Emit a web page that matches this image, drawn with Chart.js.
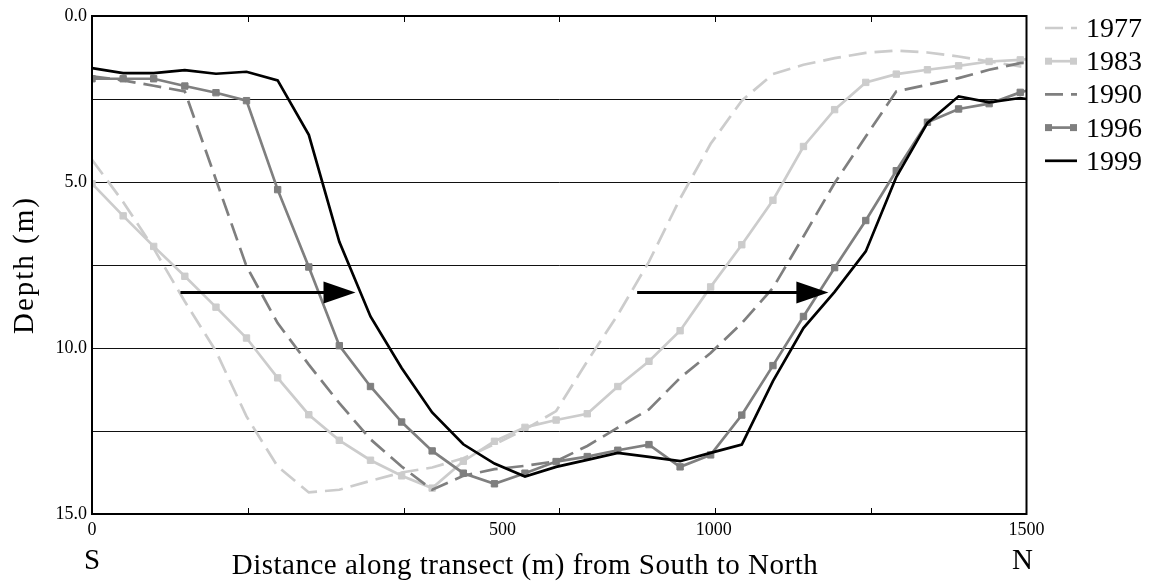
<!DOCTYPE html>
<html>
<head>
<title>Channel depth along transect</title>
<script src="https://cdn.jsdelivr.net/npm/chart.js@4.4.0/dist/chart.umd.min.js"></script>
<style>
    body { margin: 0; background: #fff; }
</style>
</head>
<body>
<canvas id="transect" width="1151" height="588"></canvas>
<script>
// distance along transect (m), one sounding every ~50 m, last value is the plot edge
var distance = [0, 50, 99, 149, 199, 248, 298, 348, 397, 447, 497, 546, 596, 646, 695, 745,
    795, 844, 894, 944, 993, 1043, 1093, 1142, 1192, 1242, 1291, 1341, 1391, 1440, 1490, 1500];

// depth (m) for each survey year
var depth1977 = [4.33, 5.6, 7.0, 8.6, 10.1, 12.06, 13.57, 14.35, 14.27, 14.0, 13.75, 13.6, 13.32, 12.9, 12.45, 11.9,
    10.4, 9.0, 7.4, 5.5, 3.85, 2.55, 1.75, 1.47, 1.27, 1.11, 1.04, 1.1, 1.22, 1.37, 1.52, 1.54];
var depth1983 = [5.05, 6.02, 6.94, 7.84, 8.77, 9.7, 10.9, 12.01, 12.78, 13.38, 13.85, 14.22, 13.41, 12.81, 12.39, 12.17,
    11.98, 11.16, 10.4, 9.48, 8.16, 6.89, 5.55, 3.93, 2.82, 2.0, 1.75, 1.62, 1.5, 1.37, 1.32, 1.3];
var depth1990 = [1.82, 1.94, 2.1, 2.27, 4.93, 7.54, 9.25, 10.5, 11.66, 12.75, 13.57, 14.27, 13.85, 13.65, 13.55, 13.41,
    12.95, 12.4, 11.85, 10.9, 10.15, 9.25, 8.19, 6.64, 5.03, 3.63, 2.27, 2.07, 1.87, 1.62, 1.42, 1.4];
var depth1996 = [1.89, 1.89, 1.89, 2.11, 2.31, 2.55, 5.23, 7.56, 9.93, 11.16, 12.23, 13.1, 13.77, 14.09, 13.77, 13.42,
    13.27, 13.08, 12.91, 13.58, 13.22, 12.02, 10.53, 9.05, 7.58, 6.16, 4.66, 3.2, 2.8, 2.64, 2.3, 2.25];
var depth1999 = [1.57, 1.72, 1.72, 1.63, 1.74, 1.68, 1.94, 3.58, 6.8, 9.05, 10.6, 11.94, 12.9, 13.48, 13.87, 13.58,
    13.37, 13.16, 13.28, 13.41, 13.16, 12.91, 11.0, 9.4, 8.31, 7.09, 4.85, 3.22, 2.42, 2.6, 2.47, 2.5];

var years = ['1977', '1983', '1990', '1996', '1999'];
// x labels as printed in the figure and where they sit along the axis (m)
var xLabelText = ['0', '500', '1000', '1500'];
var xLabelAt = [0, 659, 998, 1500];
var yLabelled = [0, 5, 10, 15];

// migration arrows (m along transect, depth m)
var arrowFrom = [142, 875];
var arrowTo = [423, 1182];
var arrowDepth = 8.33;

var LIGHT = '#cccccc';
var MID = '#7f7f7f';
var SERIF = '"Liberation Serif", "DejaVu Serif", serif';

function pts(values) {
    return values.map(function (v, i) { return { x: distance[i], y: v }; });
}

// marker on every sounding but not on the edge value
function markerRadius(ctx) {
    return ctx.dataIndex === distance.length - 1 ? 0 : 4.5;
}

var datasets = [
    { label: years[0], data: pts(depth1977), borderColor: LIGHT, borderDash: [18, 8], pointRadius: 0, order: 5 },
    { label: years[1], data: pts(depth1983), borderColor: LIGHT, pointRadius: markerRadius, pointStyle: 'rect',
      pointBackgroundColor: LIGHT, pointBorderColor: LIGHT, order: 4 },
    { label: years[2], data: pts(depth1990), borderColor: MID, borderDash: [18, 8], pointRadius: 0, order: 3 },
    { label: years[3], data: pts(depth1996), borderColor: MID, pointRadius: markerRadius, pointStyle: 'rect',
      pointBackgroundColor: MID, pointBorderColor: MID, order: 2 },
    { label: years[4], data: pts(depth1999), borderColor: '#000000', pointRadius: 0, order: 1 }
];
datasets.forEach(function (d) {
    d.borderWidth = 2.7;
    d.tension = 0;
    d.fill = false;
    d.pointBorderWidth = 1;
});

var decor = {
    id: 'decor',
    afterDatasetsDraw: function (chart) {
        var c = chart.ctx, a = chart.chartArea;
        var xs = chart.scales.x, ys = chart.scales.y;
        c.save();

        // arrows
        c.fillStyle = '#000';
        c.strokeStyle = '#000';
        c.lineWidth = 3;
        for (var i = 0; i < arrowFrom.length; i++) {
            var x0 = xs.getPixelForValue(arrowFrom[i]);
            var x1 = xs.getPixelForValue(arrowTo[i]);
            var y = ys.getPixelForValue(arrowDepth);
            c.beginPath();
            c.moveTo(x0, y);
            c.lineTo(x1 - 20, y);
            c.stroke();
            c.beginPath();
            c.moveTo(x1, y);
            c.lineTo(x1 - 32, y - 11);
            c.lineTo(x1 - 32, y + 11);
            c.closePath();
            c.fill();
        }

        // inward ticks top and bottom
        c.lineWidth = 1;
        for (var v = 250; v < 1500; v += 250) {
            var px = Math.round(xs.getPixelForValue(v)) + 0.5;
            c.beginPath();
            c.moveTo(px, a.bottom);
            c.lineTo(px, a.bottom - 6);
            c.moveTo(px, a.top);
            c.lineTo(px, a.top + 6);
            c.stroke();
        }

        // frame
        c.lineWidth = 2;
        c.strokeRect(a.left, a.top, a.right - a.left, a.bottom - a.top);

        // x labels
        c.fillStyle = '#000';
        c.font = '18px ' + SERIF;
        c.textAlign = 'center';
        c.textBaseline = 'top';
        xLabelText.forEach(function (t, k) {
            c.fillText(t, xs.getPixelForValue(xLabelAt[k]), a.bottom + 7);
        });

        // legend
        var lx0 = 1045, lx1 = 1077;
        c.textBaseline = 'alphabetic';
        chart.data.datasets.forEach(function (d, k) {
            var ly = 28 + k * 33.2;
            c.strokeStyle = d.borderColor;
            c.lineWidth = 2.7;
            c.setLineDash(d.borderDash || []);
            c.beginPath();
            c.moveTo(lx0, ly);
            c.lineTo(lx1, ly);
            c.stroke();
            c.setLineDash([]);
            if (d.pointStyle === 'rect') {
                c.fillStyle = d.borderColor;
                c.fillRect(lx0, ly - 3.5, 7, 7);
                c.fillRect(lx1 - 7, ly - 3.5, 7, 7);
            }
            c.fillStyle = '#000';
            c.font = '28px ' + SERIF;
            c.textAlign = 'left';
            c.fillText(d.label, 1086, ly + 9);
        });

        // axis titles
        c.fillStyle = '#000';
        c.font = '29px ' + SERIF;
        c.textAlign = 'center';
        c.letterSpacing = '0.5px';
        c.fillText('Distance along transect (m) from South to North', 525, 574);
        c.letterSpacing = '0px';
        c.fillText('S', a.left, 569);
        c.fillText('N', a.right - 4, 569);
        c.translate(24, (a.top + a.bottom) / 2);
        c.rotate(-Math.PI / 2);
        c.letterSpacing = '2px';
        c.fillText('Depth (m)', 0, 9);
        c.restore();
    }
};

new Chart(document.getElementById('transect'), {
    type: 'line',
    data: { datasets: datasets },
    options: {
        responsive: false,
        devicePixelRatio: 1,
        animation: false,
        layout: { padding: { top: 16, right: 124.5, left: 0, bottom: 0 } },
        plugins: { legend: { display: false }, tooltip: { enabled: false } },
        scales: {
            x: {
                type: 'linear',
                min: 0,
                max: 1500,
                grid: { display: false },
                border: { display: false },
                ticks: {
                    stepSize: 250,
                    autoSkip: false,
                    maxRotation: 0,
                    color: '#000',
                    font: { family: SERIF, size: 18 },
                    callback: function () { return ''; }
                },
                afterFit: function (s) { s.height = 74; }
            },
            y: {
                min: 0,
                max: 15,
                reverse: true,
                grid: { color: '#111', lineWidth: 1, drawTicks: false },
                border: { display: false },
                ticks: {
                    stepSize: 2.5,
                    autoSkip: false,
                    padding: 5,
                    color: '#000',
                    font: { family: SERIF, size: 18 },
                    callback: function (v) { return yLabelled.indexOf(v) >= 0 ? v.toFixed(1) : ''; }
                },
                afterFit: function (s) { s.width = 92; }
            }
        }
    },
    plugins: [decor]
});
</script>
</body>
</html>
